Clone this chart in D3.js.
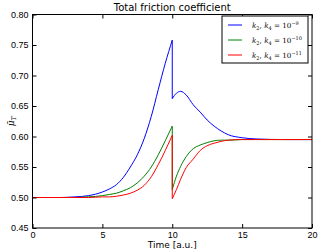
<!DOCTYPE html>
<html>
<head>
<meta charset="utf-8">
<script src="https://cdn.jsdelivr.net/npm/d3@7"></script>
<style>
    body { margin: 0; background: #fff; }
    svg { display: block; font-family: "DejaVu Sans", sans-serif; }
    .tick line { stroke: #000; }
</style>
</head>
<body>
<script>
// time samples before and after the jump at t = 10
const tPre = [0, 2, 3, 4, 5, 5.5, 6, 6.5, 7, 7.5, 8, 8.5, 9, 9.5, 10];
const tPost = [10, 10.3, 10.6, 11, 11.5, 12, 12.5, 13, 13.5, 14, 15, 16, 18, 20];

const bluePre = [0.5, 0.5, 0.501, 0.503, 0.509, 0.514, 0.521, 0.533, 0.550, 0.570, 0.597, 0.633, 0.677, 0.720, 0.758];
const bluePost = [0.662, 0.671, 0.674, 0.668, 0.652, 0.640, 0.627, 0.617, 0.609, 0.603, 0.598, 0.596, 0.595, 0.595];
const greenPre = [0.5, 0.5, 0.5, 0.501, 0.503, 0.505, 0.507, 0.511, 0.516, 0.524, 0.535, 0.550, 0.570, 0.593, 0.617];
const greenPost = [0.513, 0.535, 0.551, 0.567, 0.580, 0.586, 0.590, 0.593, 0.594, 0.594, 0.595, 0.595, 0.595, 0.595];
const redPre = [0.5, 0.5, 0.5, 0.5, 0.501, 0.501, 0.502, 0.504, 0.507, 0.512, 0.520, 0.534, 0.554, 0.577, 0.602];
const redPost = [0.498, 0.513, 0.530, 0.549, 0.563, 0.577, 0.585, 0.589, 0.592, 0.594, 0.595, 0.595, 0.595, 0.595];

const series = [
    { exp: "−9", color: "#0000ff", pre: bluePre, post: bluePost },
    { exp: "−10", color: "#008000", pre: greenPre, post: greenPost },
    { exp: "−11", color: "#ff0000", pre: redPre, post: redPost }
];

const xTicks = [0, 5, 10, 15, 20];
const yTicks = [0.45, 0.50, 0.55, 0.60, 0.65, 0.70, 0.75, 0.80];

const width = 320, height = 252;
const margin = { top: 14.5, right: 8, bottom: 24, left: 32.5 };

const svg = d3.select("body").append("svg")
    .attr("width", width)
    .attr("height", height);

const x = d3.scaleLinear().domain([0, 20]).range([margin.left, width - margin.right]);
const y = d3.scaleLinear().domain([0.45, 0.80]).range([height - margin.bottom, margin.top]);

// lines
const line = d3.line()
    .x(d => x(d[0]))
    .y(d => y(d[1]))
    .curve(d3.curveMonotoneX);

const plot = svg.append("g");
series.forEach(s => {
    const a = line(tPre.map((t, i) => [t, s.pre[i]]));
    const b = line(tPost.map((t, i) => [t, s.post[i]])).replace(/^M/, "L");
    plot.append("path")
        .attr("d", a + b)
        .attr("fill", "none")
        .attr("stroke", s.color)
        .attr("stroke-width", 1);
});

// axes, inward ticks on all sides
function styleAxis(g) {
    g.select(".domain").remove();
    g.selectAll("text").attr("font-size", 9).attr("fill", "#000");
}
svg.append("g")
    .attr("transform", `translate(0,${y.range()[0]})`)
    .call(d3.axisBottom(x).tickValues(xTicks).tickSize(-4).tickPadding(4).tickFormat(d3.format("d")))
    .call(styleAxis);
svg.append("g")
    .attr("transform", `translate(0,${y.range()[1]})`)
    .call(d3.axisTop(x).tickValues(xTicks).tickSize(-4).tickFormat(""))
    .call(styleAxis);
svg.append("g")
    .attr("transform", `translate(${x.range()[0]},0)`)
    .call(d3.axisLeft(y).tickValues(yTicks).tickSize(-4).tickPadding(4).tickFormat(d3.format(".2f")))
    .call(styleAxis);
svg.append("g")
    .attr("transform", `translate(${x.range()[1]},0)`)
    .call(d3.axisRight(y).tickValues(yTicks).tickSize(-4).tickFormat(""))
    .call(styleAxis);

svg.append("rect")
    .attr("x", x.range()[0])
    .attr("y", y.range()[1])
    .attr("width", x.range()[1] - x.range()[0])
    .attr("height", y.range()[0] - y.range()[1])
    .attr("fill", "none")
    .attr("stroke", "#000")
    .attr("stroke-width", 1);

// title and labels
svg.append("text")
    .attr("x", (x.range()[0] + x.range()[1]) / 2)
    .attr("y", 10.5)
    .attr("text-anchor", "middle")
    .attr("font-size", 10)
    .text("Total friction coefficient");

svg.append("text")
    .attr("x", (x.range()[0] + x.range()[1]) / 2)
    .attr("y", 248)
    .attr("text-anchor", "middle")
    .attr("font-size", 9)
    .text("Time [a.u.]");

const yl = svg.append("text")
    .attr("transform", `translate(14,${(y.range()[0] + y.range()[1]) / 2}) rotate(-90)`)
    .attr("text-anchor", "middle")
    .attr("font-family", "DejaVu Serif")
    .attr("font-style", "italic")
    .attr("font-size", 9);
yl.append("tspan").text("μ\u0304");
yl.append("tspan").attr("dy", 2).attr("font-size", 6.5).text("T");

// legend
const lg = svg.append("g").attr("transform", "translate(222,16)");
lg.append("rect")
    .attr("width", 86)
    .attr("height", 47)
    .attr("fill", "#fff")
    .attr("stroke", "#000")
    .attr("stroke-width", 1);
series.forEach((s, i) => {
    const row = lg.append("g").attr("transform", `translate(0,${9 + i * 15})`);
    row.append("line")
        .attr("x1", 6).attr("x2", 20)
        .attr("stroke", s.color)
        .attr("stroke-width", 1);
    const t = row.append("text")
        .attr("x", 30)
        .attr("y", 3)
        .attr("font-family", "DejaVu Serif")
        .attr("font-size", 7.2);
    t.append("tspan").attr("font-style", "italic").text("k");
    t.append("tspan").attr("dy", 1.5).attr("font-size", 5).text("2");
    t.append("tspan").attr("dy", -1.5).text(", ");
    t.append("tspan").attr("font-style", "italic").text("k");
    t.append("tspan").attr("dy", 1.5).attr("font-size", 5).text("4");
    t.append("tspan").attr("dy", -1.5).text(" = 10");
    t.append("tspan").attr("dy", -3.5).attr("font-size", 5).text(s.exp);
});
</script>
</body>
</html>
